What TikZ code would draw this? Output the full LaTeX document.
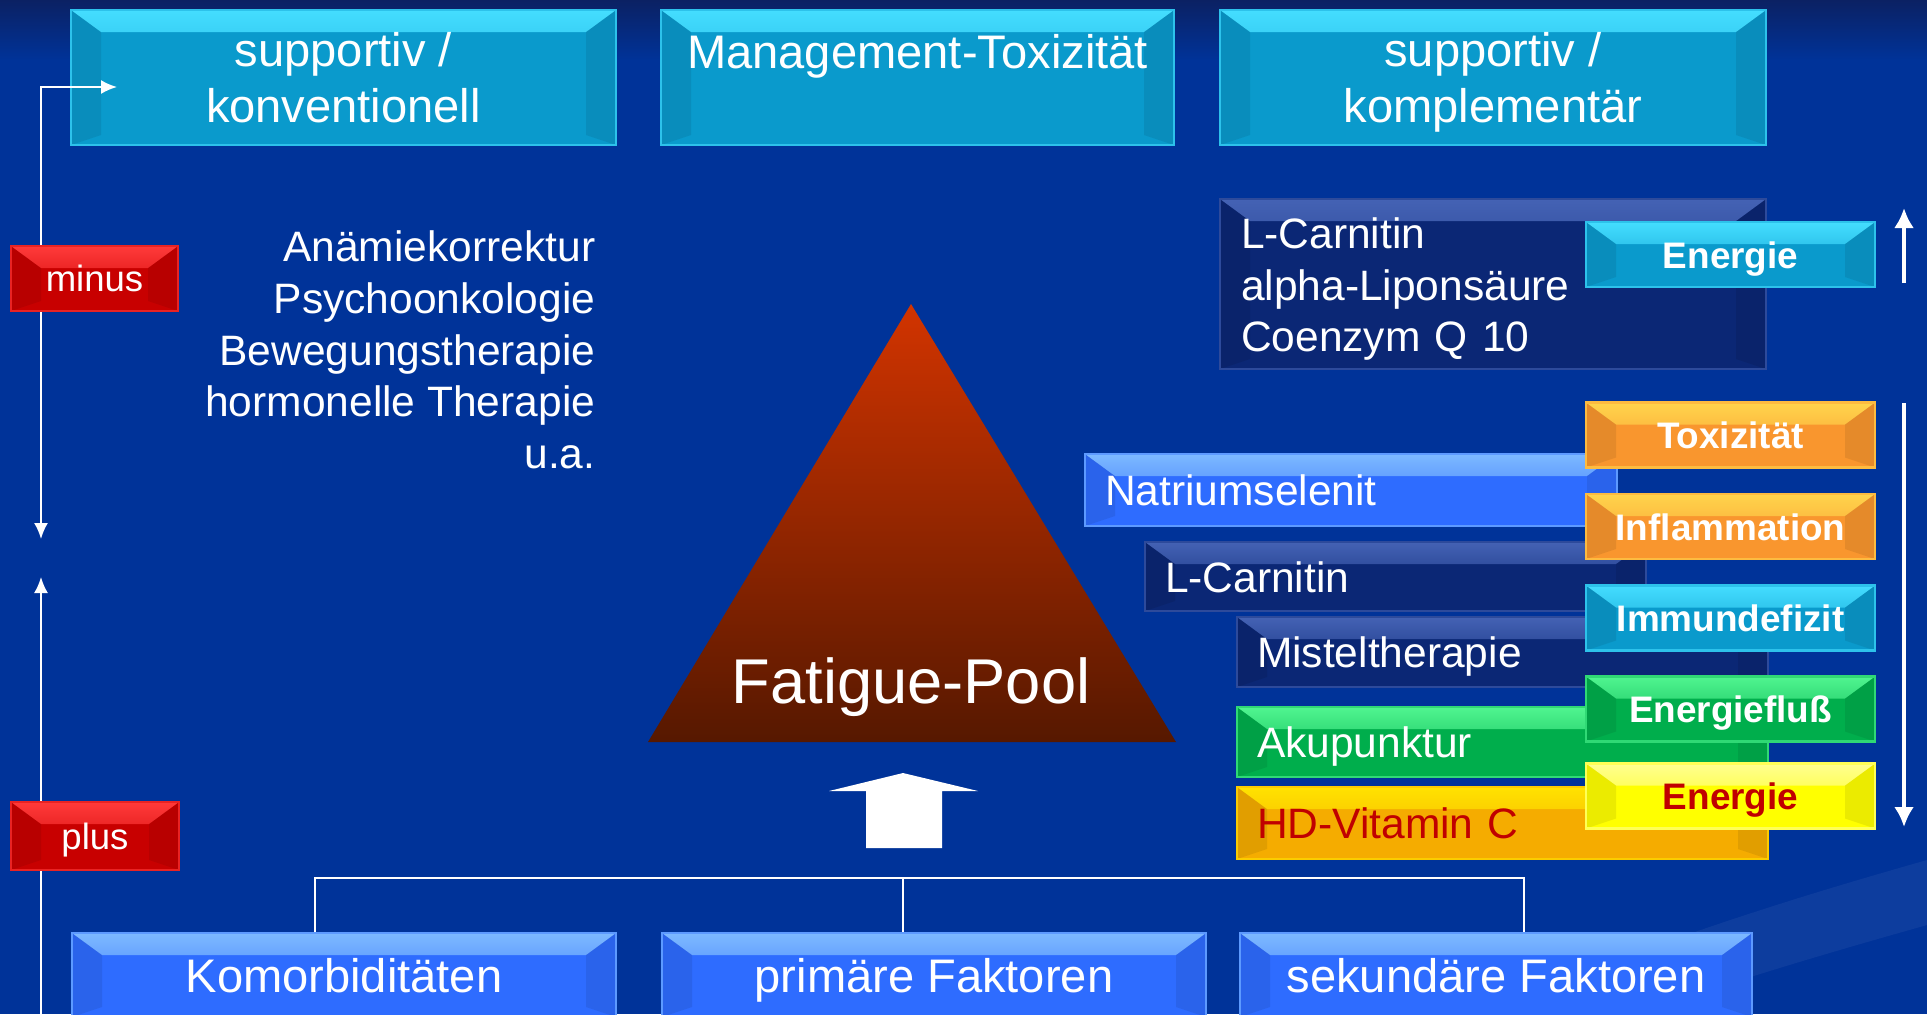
\documentclass[tikz,border=0pt]{standalone}
\usepackage{fontspec}
\setmainfont{Liberation Sans}
\usetikzlibrary{arrows.meta,calc,positioning}

\definecolor{slide}{HTML}{003399}
\definecolor{slidetop}{HTML}{0B2163}
\definecolor{cyanbase}{HTML}{0A9ACC}
\definecolor{cyanlight}{HTML}{44DDFF}
\definecolor{navybase}{HTML}{0B2775}
\definecolor{navylight}{HTML}{4462B4}
\definecolor{bluebase}{HTML}{2E6CFF}
\definecolor{bluelight}{HTML}{7DB9FF}
\definecolor{redbase}{HTML}{C80000}
\definecolor{redlight}{HTML}{FF3A3A}
\definecolor{orangebase}{HTML}{F9962E}
\definecolor{orangelight}{HTML}{FFD44C}
\definecolor{greenbase}{HTML}{00AE4C}
\definecolor{greenlight}{HTML}{50F590}
\definecolor{yellowbase}{HTML}{FFFF00}
\definecolor{yellowlight}{HTML}{FFFF90}
\definecolor{goldbase}{HTML}{F5AC00}
\definecolor{goldlight}{HTML}{FFE200}
\definecolor{darkred}{HTML}{C00000}
\definecolor{pooltop}{HTML}{D23400}
\definecolor{poolmid}{HTML}{A82B00}
\definecolor{poolbottom}{HTML}{561800}

\newcommand\boxfont{\fontsize{13.4}{16.1}\selectfont}
\newcommand\listfont{\fontsize{12.1}{14.7}\selectfont}
\newcommand\tagfont{\fontsize{10.5}{12.5}\selectfont\bfseries}
\newcommand\signfont{\fontsize{10.4}{12.5}\selectfont}
\newcommand\poolfont{\fontsize{18}{21}\selectfont}

\tikzset{
  tile/.style 2 args={fill=#1, draw=#2!60!#1, line width=0.25mm, inner sep=0pt,
    path picture={
      \shade[top color=#2, bottom color=#1]
        (path picture bounding box.north west) -- (path picture bounding box.north east)
        -- ([xshift=-3mm,yshift=-2.2mm]path picture bounding box.north east)
        -- ([xshift=3mm,yshift=-2.2mm]path picture bounding box.north west) -- cycle;
      \fill[black,opacity=.08]
        (path picture bounding box.north west)
        -- ([xshift=3mm,yshift=-2.2mm]path picture bounding box.north west)
        -- ([xshift=3mm,yshift=1mm]path picture bounding box.south west)
        -- (path picture bounding box.south west) -- cycle;
      \fill[black,opacity=.08]
        (path picture bounding box.north east)
        -- ([xshift=-3mm,yshift=-2.2mm]path picture bounding box.north east)
        -- ([xshift=-3mm,yshift=1mm]path picture bounding box.south east)
        -- (path picture bounding box.south east) -- cycle;
    }},
  headbox/.style={tile={cyanbase}{cyanlight}, minimum height=13.5mm, text=white,
    font=\boxfont, align=center},
  footbox/.style={tile={bluebase}{bluelight}, minimum height=8.4mm, text=white,
    font=\boxfont, text height=3.4mm, text depth=0pt},
  signbox/.style={tile={redbase}{redlight}, text=white, font=\signfont,
    text height=2.6mm, text depth=0pt},
  bar/.style 2 args={tile={#1}{#2}, inner xsep=2mm, text=white, font=\listfont,
    align=left, text height=3.1mm, text depth=0pt},
  tag/.style 2 args={tile={#1}{#2}, text=white, font=\tagfont, minimum width=28.9mm,
    minimum height=6.5mm, text height=2.7mm, text depth=0pt},
  wire/.style={white, line width=0.2mm},
  tip/.style={-{Latex[length=1.6mm,width=1.4mm]}},
  bold arrow/.style={white, line width=0.4mm, -{Latex[length=2mm,width=2mm]}},
}

\begin{document}
\begin{tikzpicture}[x=0.1mm,y=-0.1mm]
  \useasboundingbox (0,0) rectangle (1927,1014);
  % background
  \fill[slide] (0,0) rectangle (1927,1014);
  \shade[top color=slidetop, bottom color=slide] (0,0) rectangle (1927,60);
  \fill[white,opacity=.05] (1480,1014) .. controls (1680,930) and (1840,885) .. (1927,860)
    -- (1927,925) .. controls (1820,955) and (1720,985) .. (1640,1014) -- cycle;

  % top row
  \node[headbox, minimum width=54.5mm, text depth=0pt] (konv) at (343.5,77.5) {supportiv /\\konventionell};
  \node[headbox, minimum width=51.3mm, text height=3.4mm, text depth=5.3mm] (mgmt) at (917.5,77.5) {Management-Toxizität};
  \node[headbox, minimum width=54.6mm, text depth=0pt] (kompl) at (1493,77.5) {supportiv /\\komplementär};

  % left rail
  \coordinate (tipRight) at (117,87);
  \coordinate (tipDown) at (41,539);
  \coordinate (tipUp) at (41,577);
  \coordinate (railFoot) at (41,1020);
  \draw[wire, {Latex[length=1.6mm,width=1.4mm]}-{Latex[length=1.6mm,width=1.4mm]}] (tipDown) |- (tipRight);
  \draw[wire, tip] (railFoot) -- (tipUp);
  \node[signbox, minimum width=16.7mm, minimum height=6.5mm] (minus) at (94.5,278.5) {minus};
  \node[signbox, minimum width=16.8mm, minimum height=6.8mm] (plus) at (95,836) {plus};

  % conventional measures
  \node[text=white, font=\listfont, align=right, inner sep=0pt, anchor=east] (treat) at (596,350)
    {Anämiekorrektur\\Psychoonkologie\\Bewegungstherapie\\hormonelle Therapie\\u.a.};

  % pool
  \shade[top color=pooltop, middle color=poolmid, bottom color=poolbottom]
    (911,304) -- (1176,742) -- (648,742) -- cycle;
  \node[text=white, font=\poolfont, inner sep=0pt, text height=4.6mm, text depth=0pt] (pool) at (911,680) {Fatigue-Pool};
  \fill[white] (903,773) -- (978,791) -- (942,791) -- (942,848) -- (866,848) -- (866,791) -- (829,791) -- cycle;

  % bottom row
  \node[footbox, minimum width=54.4mm] (komorb) at (344,975) {Komorbiditäten};
  \node[footbox, minimum width=54.4mm] (primaer) at (934,975) {primäre Faktoren};
  \node[footbox, minimum width=51.2mm] (sekund) at (1496,975) {sekundäre Faktoren};
  \coordinate (barL) at (315,878);
  \coordinate (barM) at (903,878);
  \coordinate (barR) at (1524,878);
  \draw[wire] (komorb.north -| barL) -- (barL) -- (barR) -- (sekund.north -| barR);
  \draw[wire] (primaer.north -| barM) -- (barM);

  % complementary measures
  \node[tile={navybase}{navylight}, inner xsep=2.1mm, text width=50.4mm, minimum height=17mm,
    text=white, font=\listfont, align=left, text depth=10.2mm] (mito) at (1493,284)
    {L-Carnitin\\alpha-Liponsäure\\Coenzym Q 10};
  \node[tag={cyanbase}{cyanlight}] (energyUp) at (1730.5,254.5) {Energie};

  \node[bar={bluebase}{bluelight}, text width=49.2mm, minimum height=7.2mm] (selen) at (1351,490) {Natriumselenit};
  \node[bar={navybase}{navylight}, text width=46.1mm, minimum height=6.9mm] (carni) at (1395.5,576.5) {L-Carnitin};
  \node[bar={navybase}{navylight}, text width=49.1mm, minimum height=7mm] (mistel) at (1502.5,652) {Misteltherapie};
  \node[bar={greenbase}{greenlight}, text width=49.1mm, minimum height=7mm] (aku) at (1502.5,742) {Akupunktur};
  \node[bar={goldbase}{goldlight}, text width=49.1mm, minimum height=7.2mm, text=darkred] (vitc) at (1502.5,823) {HD-Vitamin C};

  \node[tag={orangebase}{orangelight}] (tox) at (1730.5,435) {Toxizität};
  \node[tag={orangebase}{orangelight}] (inflam) at (1730.5,526.5) {Inflammation};
  \node[tag={cyanbase}{cyanlight}] (immun) at (1730.5,618) {Immundefizit};
  \node[tag={greenbase}{greenlight}] (flow) at (1730.5,709) {Energiefluß};
  \node[tag={yellowbase}{yellowlight}, text=darkred] (energy) at (1730.5,796) {Energie};

  \coordinate (upTop) at (1904,208);
  \coordinate (upFoot) at (1904,283);
  \coordinate (downTop) at (1904,403);
  \coordinate (downTip) at (1904,827);
  \draw[bold arrow] (upFoot) -- (upTop);
  \draw[bold arrow] (downTop) -- (downTip);
\end{tikzpicture}
\end{document}
